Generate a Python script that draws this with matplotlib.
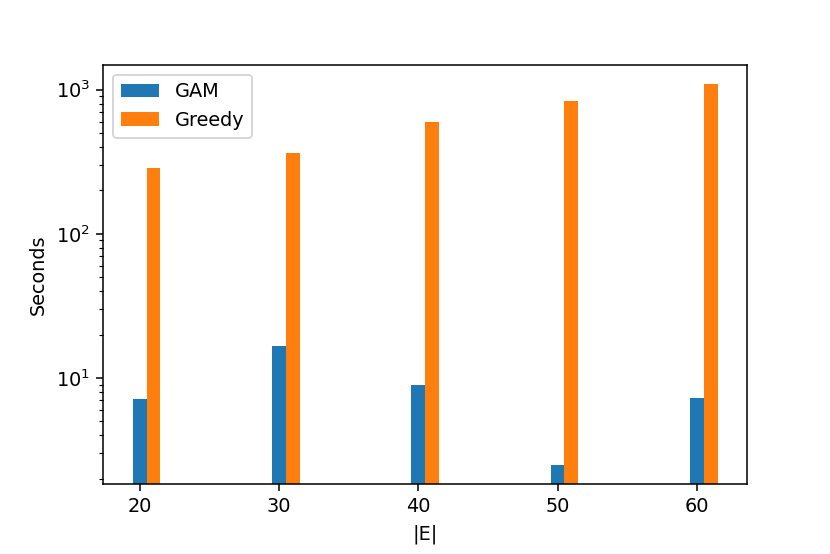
import numpy as np
import matplotlib
matplotlib.use("Agg")
import matplotlib.pyplot as plt

# |E| values and runtimes in seconds
edges = np.array([20, 30, 40, 50, 60])
gam_sec = [7.1, 16.6, 8.9, 2.49, 7.3]
greedy_sec = [286, 361, 600, 839, 1095]

DPI = 138.33
fig, ax = plt.subplots(figsize=(830 / DPI, 554 / DPI), dpi=DPI)
fig.subplots_adjust(left=0.1245, right=0.9, top=0.8827, bottom=0.1264)

ax.bar(edges, gam_sec, width=1, label="GAM")
ax.bar(edges + 1, greedy_sec, width=1, label="Greedy")
ax.set_yscale("log")
ax.set_xlabel("|E|")
ax.set_ylabel("Seconds")
ax.legend(loc="upper left")

plt.savefig("out.png", dpi=DPI)
plt.close(fig)
